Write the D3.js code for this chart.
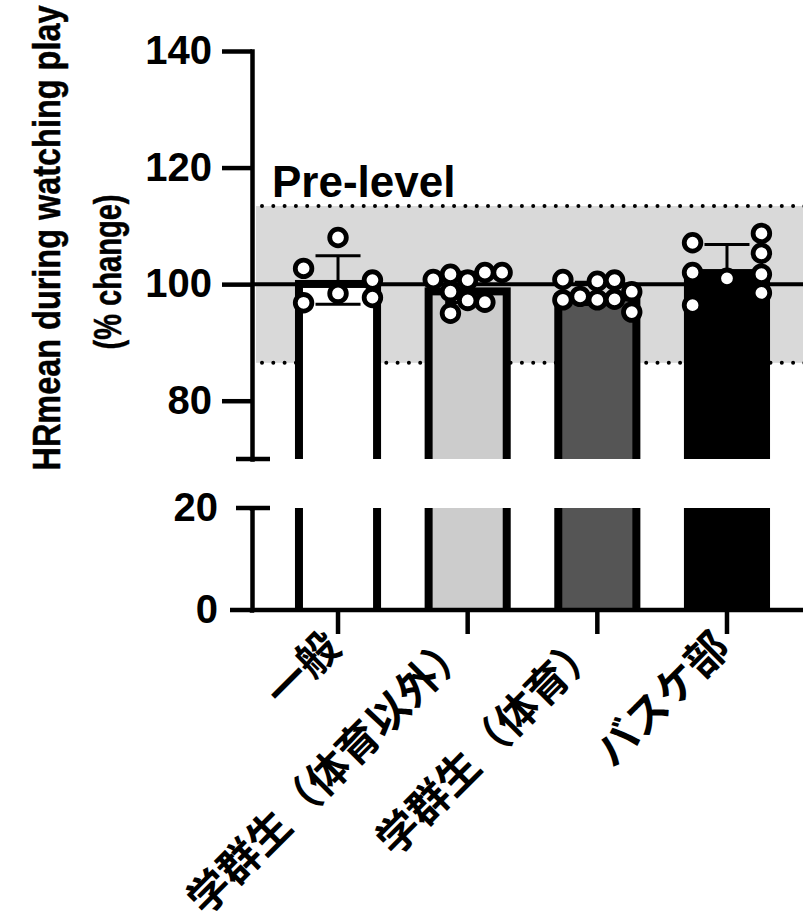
<!DOCTYPE html>
<html>
<head>
<meta charset="utf-8">
<script src="https://cdn.jsdelivr.net/npm/d3@7"></script>
<style>
body { margin: 0; background: #fff; }
</style>
</head>
<body>
<div id="chart"></div>
<script>
// categories
const groups = ["一般", "学群生（体育以外）", "学群生（体育）", "バスケ部"];

// individual values (% change) per group
const general = [108.0, 102.7, 98.4, 100.7, 96.8, 97.7];
const nonPE = [100.8, 101.7, 100.7, 102.0, 102.0, 98.7, 97.2, 96.9, 95.0];
const pe = [100.8, 100.5, 100.7, 97.3, 97.9, 97.3, 97.4, 98.7, 95.2];
const basket = [107.1, 102.0, 96.4, 101.0, 108.7, 105.3, 101.7, 98.5];

// scatter column of each dot (-2 .. 2), as laid out in the figure
const generalCols = [0, -2, 0, 2, -2, 2];
const nonPECols = [-2, -1, 0, 1, 2, -1, 0, 1, -1];
const peCols = [-2, 0, 1, -2, -1, 0, 1, 2, 2];
const basketCols = [-2, -2, -2, 0, 2, 2, 2, 2];

const topTicks = [80, 100, 120, 140];
const bottomTicks = [0, 20];
const preLevel = [86.5, 113.4];
const baseline = 100;

const fills = ["#ffffff", "#cccccc", "#555555", "#000000"];

const data = groups.map((g, i) => {
  const vals = [general, nonPE, pe, basket][i];
  const cols = [generalCols, nonPECols, peCols, basketCols][i];
  return {
    name: g,
    fill: fills[i],
    mean: d3.mean(vals),
    sd: d3.deviation(vals),
    points: vals.map((v, j) => ({ v: v, col: cols[j] }))
  };
});

const width = 803;
const height = 923;
const axisX = 252;
const font = "'Liberation Sans', Arial, Helvetica, sans-serif";

const x = d3.scaleBand()
        .domain(groups)
        .range([254, 811])
        .paddingInner(0.336)
        .paddingOuter(0.316);

// broken y axis: two segments
const yTop = d3.scaleLinear().domain([70, 140]).range([459, 51]);
const yBot = d3.scaleLinear().domain([0, 20]).range([610, 508]);

const jitter = d3.scaleLinear().domain([-2, 2]).range([-x.bandwidth() * 0.4, x.bandwidth() * 0.4]);

const svg = d3.select("#chart")
      .append("svg")
      .attr("width", width)
      .attr("height", height)
      .style("background", "#fff");

const defs = svg.append("defs");
defs.append("clipPath").attr("id", "clipTop")
  .append("rect")
    .attr("x", 0).attr("y", 0)
    .attr("width", width).attr("height", yTop(70));
defs.append("clipPath").attr("id", "clipBot")
  .append("rect")
    .attr("x", 0).attr("y", yBot(20))
    .attr("width", width).attr("height", yBot(0) - yBot(20));

// pre-level band
svg.append("rect")
    .attr("x", axisX + 4)
    .attr("y", yTop(preLevel[1]))
    .attr("width", width)
    .attr("height", yTop(preLevel[0]) - yTop(preLevel[1]))
    .attr("fill", "#d9d9d9");

svg.append("g")
  .selectAll("line")
  .data(preLevel)
  .join("line")
    .attr("x1", axisX + 10)
    .attr("x2", width + 10)
    .attr("y1", d => yTop(d))
    .attr("y2", d => yTop(d))
    .attr("stroke", "#000")
    .attr("stroke-width", 4)
    .attr("stroke-linecap", "round")
    .attr("stroke-dasharray", "0 11.3");

svg.append("text")
    .attr("x", axisX + 20)
    .attr("y", yTop(preLevel[1]) - 9)
    .attr("font-family", font)
    .attr("font-weight", "bold")
    .attr("font-size", 44)
    .text("Pre-level");

// bars, top segment
const bw = x.bandwidth();
svg.append("g")
    .attr("clip-path", "url(#clipTop)")
  .selectAll("rect")
  .data(data)
  .join("rect")
    .attr("x", d => x(d.name) + 4)
    .attr("y", d => yTop(d.mean) + 4)
    .attr("width", bw - 8)
    .attr("height", d => yTop(70) - yTop(d.mean) + 20)
    .attr("fill", d => d.fill)
    .attr("stroke", "#000")
    .attr("stroke-width", 8);

// bars, bottom segment
svg.append("g")
    .attr("clip-path", "url(#clipBot)")
  .selectAll("rect")
  .data(data)
  .join("rect")
    .attr("x", d => x(d.name) + 4)
    .attr("y", yBot(20) - 20)
    .attr("width", bw - 8)
    .attr("height", yBot(0) - yBot(20) + 40)
    .attr("fill", d => d.fill)
    .attr("stroke", "#000")
    .attr("stroke-width", 8);

// 100% line
svg.append("line")
    .attr("x1", axisX)
    .attr("x2", width)
    .attr("y1", yTop(baseline))
    .attr("y2", yTop(baseline))
    .attr("stroke", "#000")
    .attr("stroke-width", 4);

// error bars (mean ± SD)
const eb = svg.append("g")
    .attr("stroke", "#000")
    .attr("stroke-width", 3);
data.forEach(d => {
  const cx = x(d.name) + bw / 2;
  eb.append("line")
      .attr("x1", cx).attr("x2", cx)
      .attr("y1", yTop(d.mean - d.sd)).attr("y2", yTop(d.mean + d.sd));
  [d.mean - d.sd, d.mean + d.sd].forEach(v => {
    eb.append("line")
        .attr("x1", cx - 22.5).attr("x2", cx + 22.5)
        .attr("y1", yTop(v)).attr("y2", yTop(v));
  });
});

// dots
svg.append("g")
  .selectAll("g")
  .data(data)
  .join("g")
  .selectAll("circle")
  .data(d => d.points.map(p => ({ ...p, name: d.name })))
  .join("circle")
    .attr("cx", p => x(p.name) + bw / 2 + jitter(p.col))
    .attr("cy", p => yTop(p.v))
    .attr("r", 8.3)
    .attr("fill", "#fff")
    .attr("stroke", "#000")
    .attr("stroke-width", 4.8);

// y axes
const styleAxis = g => {
  g.selectAll("path, line")
    .attr("stroke-width", 4.5)
    .attr("stroke-linecap", "square");
  g.selectAll("text")
    .attr("font-family", font)
    .attr("font-weight", "bold")
    .attr("font-size", 40)
    .attr("fill", "#000");
};

svg.append("g")
    .attr("transform", `translate(${axisX},0)`)
    .call(d3.axisLeft(yTop).tickValues(topTicks).tickSize(30).tickPadding(10).tickSizeOuter(0))
    .call(styleAxis)
    .call(g => g.selectAll("line").attr("stroke-linecap", "butt"));

svg.append("g")
    .attr("transform", `translate(${axisX},0)`)
    .call(d3.axisLeft(yBot).tickValues(bottomTicks).tickSize(0).tickPadding(34).tickSizeOuter(0))
    .call(styleAxis)
    .call(g => g.select(".domain").attr("stroke-linecap", "butt"));

// break caps
svg.append("g")
  .selectAll("line")
  .data([yTop(70), yBot(20)])
  .join("line")
    .attr("x1", axisX - 16)
    .attr("x2", axisX + 18)
    .attr("y1", d => d)
    .attr("y2", d => d)
    .attr("stroke", "#000")
    .attr("stroke-width", 4.5);

// x axis
svg.append("g")
    .attr("transform", `translate(0,${yBot(0)})`)
    .call(d3.axisBottom(x).tickSize(24).tickFormat("").tickSizeOuter(0))
    .call(g => g.select(".domain")
        .attr("d", `M${axisX - 22},0H${width + 10}`)
        .attr("stroke-width", 4.5))
    .call(g => g.selectAll(".tick line").attr("stroke-width", 4.5));

// x labels
svg.append("g")
  .selectAll("text")
  .data(groups)
  .join("text")
    .attr("transform", d => `translate(${x(d) + bw / 2 + 5},${yBot(0) + 40}) rotate(-45)`)
    .attr("text-anchor", "end")
    .attr("font-family", "'Noto Sans CJK JP', sans-serif")
    .attr("font-weight", "bold")
    .attr("font-size", 42)
    .text(d => d);

// y title
svg.append("text")
    .attr("transform", "translate(60,238) rotate(-90)")
    .attr("text-anchor", "middle")
    .attr("font-family", font)
    .attr("font-weight", "bold")
    .attr("font-size", 39)
    .attr("stroke", "#000")
    .attr("stroke-width", 0.5)
    .attr("textLength", 465)
    .attr("lengthAdjust", "spacingAndGlyphs")
    .text("HRmean during watching play");

svg.append("text")
    .attr("transform", "translate(121,272) rotate(-90)")
    .attr("text-anchor", "middle")
    .attr("font-family", font)
    .attr("font-weight", "bold")
    .attr("font-size", 39)
    .attr("stroke", "#000")
    .attr("stroke-width", 0.5)
    .attr("textLength", 155)
    .attr("lengthAdjust", "spacingAndGlyphs")
    .text("(% change)");
</script>
</body>
</html>
